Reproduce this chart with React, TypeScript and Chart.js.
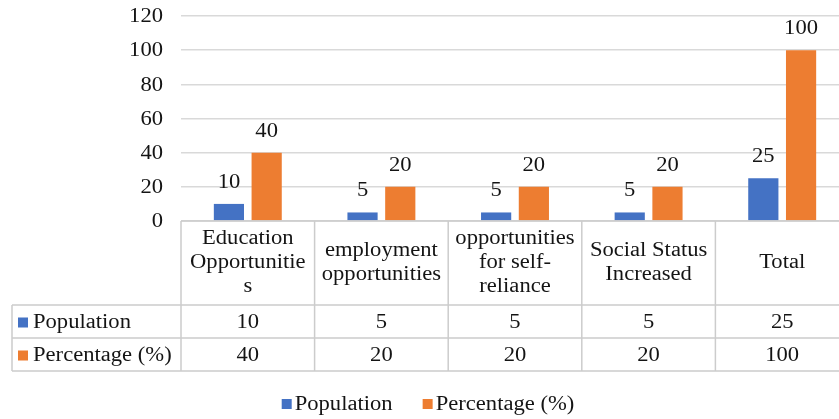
import React, { useEffect, useRef } from "react";
import { Chart, registerables } from "chart.js";

Chart.register(...registerables);

const categories: string[][] = [
  ["Education", "Opportunitie", "s"],
  ["employment", "opportunities"],
  ["opportunities", "for self-", "reliance"],
  ["Social Status", "Increased"],
  ["Total"],
];
const population = [10, 5, 5, 5, 25];
const percentage = [40, 20, 20, 20, 100];
const seriesNames = ["Population", "Percentage (%)"];
const seriesColors = ["#4472C4", "#ED7D31"];
const yMin = 0;
const yMax = 120;
const yStep = 20;

const FONT = "20px 'Liberation Serif', 'Times New Roman', serif";
const SX = 1.13;
const TEXT = "#141414";
const LINE = "#cccccc";

function sText(ctx: CanvasRenderingContext2D, text: string, x: number, y: number, align: CanvasTextAlign) {
  ctx.save();
  ctx.translate(x, y);
  ctx.scale(SX, 1);
  ctx.textAlign = align;
  ctx.fillText(text, 0, 0);
  ctx.restore();
}
function sWidth(ctx: CanvasRenderingContext2D, text: string) {
  return ctx.measureText(text).width * SX;
}

const tablePlugin = {
  id: "tablePlugin",
  afterDraw(chart: any) {
    const ctx: CanvasRenderingContext2D = chart.ctx;
    const area = chart.chartArea;
    const ys = chart.scales.y;
    const n = categories.length;
    const colW = (area.right - area.left) / n;
    ctx.save();
    ctx.font = FONT;
    ctx.fillStyle = TEXT;

    // y tick labels
    ctx.textBaseline = "middle";
    ys.ticks.forEach((t: any) => {
      const y = ys.getPixelForValue(t.value);
      sText(ctx, String(t.value), area.left - 18, y + 1, "right");
    });

    // data labels
    ctx.textBaseline = "alphabetic";
    [population, percentage].forEach((vals, di) => {
      const meta = chart.getDatasetMeta(di);
      meta.data.forEach((el: any, j: number) => {
        sText(ctx, String(vals[j]), el.x, el.y - 16, "center");
      });
    });

    // table
    const top = area.bottom;
    const headerH = 84;
    const rowH = 33;
    const tableLeft = 12;
    const r1 = top + headerH;
    const r2 = r1 + rowH;
    const r3 = r2 + rowH;
    const right = chart.width;
    ctx.strokeStyle = LINE;
    ctx.lineWidth = 1.5;
    ctx.beginPath();
    ctx.moveTo(area.left, top);
    ctx.lineTo(right, top);
    [r1, r2, r3].forEach((y) => {
      ctx.moveTo(tableLeft, y);
      ctx.lineTo(right, y);
    });
    ctx.moveTo(tableLeft, r1);
    ctx.lineTo(tableLeft, r3);
    for (let i = 0; i <= n; i++) {
      const x = area.left + i * colW;
      ctx.moveTo(x, top);
      ctx.lineTo(x, r3);
    }
    ctx.stroke();

    // header
    ctx.textBaseline = "middle";
    const lh = 24;
    const hc = top + headerH / 2;
    categories.forEach((lines, i) => {
      const cx = area.left + (i + 0.5) * colW;
      const y0 = hc - ((lines.length - 1) * lh) / 2;
      lines.forEach((ln, k) => sText(ctx, ln, cx, y0 + k * lh, "center"));
    });

    // rows
    [population, percentage].forEach((vals, di) => {
      const rt = di === 0 ? r1 : r2;
      const cy = rt + rowH / 2 + 1;
      ctx.fillStyle = seriesColors[di];
      ctx.fillRect(18, cy - 5, 10, 10);
      ctx.fillStyle = TEXT;
      sText(ctx, seriesNames[di], 33, cy, "left");
      vals.forEach((v, j) => {
        const cx = area.left + (j + 0.5) * colW;
        sText(ctx, String(v), cx, cy, "center");
      });
    });

    // legend
    const box = 10;
    const gap = 3;
    const itemGap = 30;
    const widths = seriesNames.map((s) => box + gap + sWidth(ctx, s));
    const total = widths.reduce((a, b) => a + b, 0) + itemGap;
    let lx = 428 - total / 2;
    const ly = 404;
    seriesNames.forEach((s, i) => {
      ctx.fillStyle = seriesColors[i];
      ctx.fillRect(lx, ly - 5, box, box);
      ctx.fillStyle = TEXT;
      sText(ctx, s, lx + box + gap, ly + 1, "left");
      lx += widths[i] + itemGap;
    });

    ctx.restore();
  },
};

export default function App() {
  const ref = useRef<HTMLCanvasElement | null>(null);
  useEffect(() => {
    if (!ref.current) return;
    const chart = new Chart(ref.current, {
      type: "bar",
      data: {
        labels: categories.map((l) => l.join(" ")),
        datasets: [
          { label: seriesNames[0], data: population, backgroundColor: seriesColors[0], categoryPercentage: 0.565, barPercentage: 0.8 },
          { label: seriesNames[1], data: percentage, backgroundColor: seriesColors[1], categoryPercentage: 0.565, barPercentage: 0.8 },
        ],
      },
      options: {
        responsive: false,
        animation: false,
        devicePixelRatio: 1,
        layout: { padding: { left: 0, top: 16, right: 1, bottom: 0 } },
        plugins: { legend: { display: false }, tooltip: { enabled: false } },
        scales: {
          x: {
            grid: { display: false },
            border: { display: false },
            ticks: { display: false },
            afterFit: (s: any) => {
              s.height = 198;
            },
          },
          y: {
            min: yMin,
            max: yMax,
            ticks: { display: false, stepSize: yStep },
            border: { display: false },
            grid: { color: "#d9d9d9", lineWidth: 1.5, drawTicks: false },
            afterFit: (s: any) => {
              s.width = 181;
            },
          },
        },
      },
      plugins: [tablePlugin],
    });
    return () => chart.destroy();
  }, []);
  return (
    <div style={{ position: "fixed", left: 0, top: 0, width: 839, height: 419, overflow: "hidden", background: "#fff" }}>
      <canvas ref={ref} width={850} height={419} style={{ display: "block" }} />
    </div>
  );
}
